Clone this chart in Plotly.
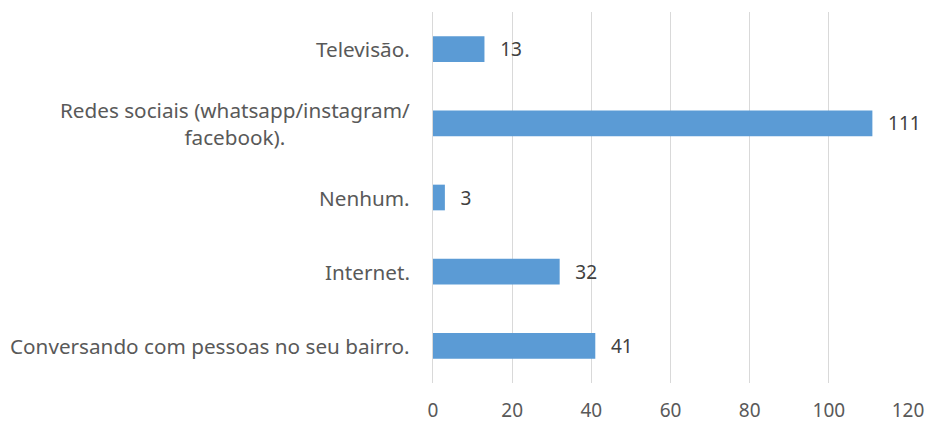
import plotly.graph_objects as go

categories = [
    "Conversando com pessoas no seu bairro.",
    "Internet.",
    "Nenhum.",
    "Redes sociais (whatsapp/instagram/<br>facebook).",
    "Televisão.",
]
values = [41, 32, 3, 111, 13]
x_ticks = [0, 20, 40, 60, 80, 100, 120]

font_family = "Noto Sans, Open Sans, sans-serif"
text_color = "#595959"

fig = go.Figure(
    go.Bar(
        x=values,
        y=categories,
        orientation="h",
        marker=dict(color="#5B9BD5", line=dict(width=0)),
        text=[f"\u2002\u2009{v}" for v in values],
        textposition="outside",
        cliponaxis=False,
        textfont=dict(family=font_family, size=20, color="#404040"),
        hoverinfo="skip",
    )
)

for cat in categories:
    fig.add_annotation(
        x=0,
        xref="paper",
        y=cat,
        yref="y",
        text=cat,
        showarrow=False,
        xanchor="right",
        xshift=-21,
        align="center",
        font=dict(family=font_family, size=20.7, color=text_color),
    )

fig.update_layout(
    width=930,
    height=426,
    margin=dict(l=433, r=22, t=12, b=43, autoexpand=False),
    paper_bgcolor="white",
    plot_bgcolor="white",
    bargap=0.654,
    showlegend=False,
    font=dict(family=font_family, size=16, color=text_color),
)

fig.update_xaxes(
    range=[0, 120],
    tickvals=x_ticks,
    showgrid=True,
    gridcolor="#D9D9D9",
    gridwidth=1,
    zeroline=False,
    showline=False,
    ticks="",
    ticklabelstandoff=14,
    automargin=False,
    tickfont=dict(family=font_family, size=19, color=text_color),
    fixedrange=True,
)

fig.update_yaxes(
    categoryorder="array",
    categoryarray=categories,
    showgrid=False,
    zeroline=False,
    showline=True,
    linecolor="#D9D9D9",
    linewidth=1,
    ticks="",
    showticklabels=False,
    automargin=False,
    fixedrange=True,
)

# remove the page's default body margin so the figure fills the window
fig.write_html(
    "out.html",
    config={"displayModeBar": False, "staticPlot": True},
    post_script="document.body.style.margin='0';document.body.style.overflow='hidden';",
)
